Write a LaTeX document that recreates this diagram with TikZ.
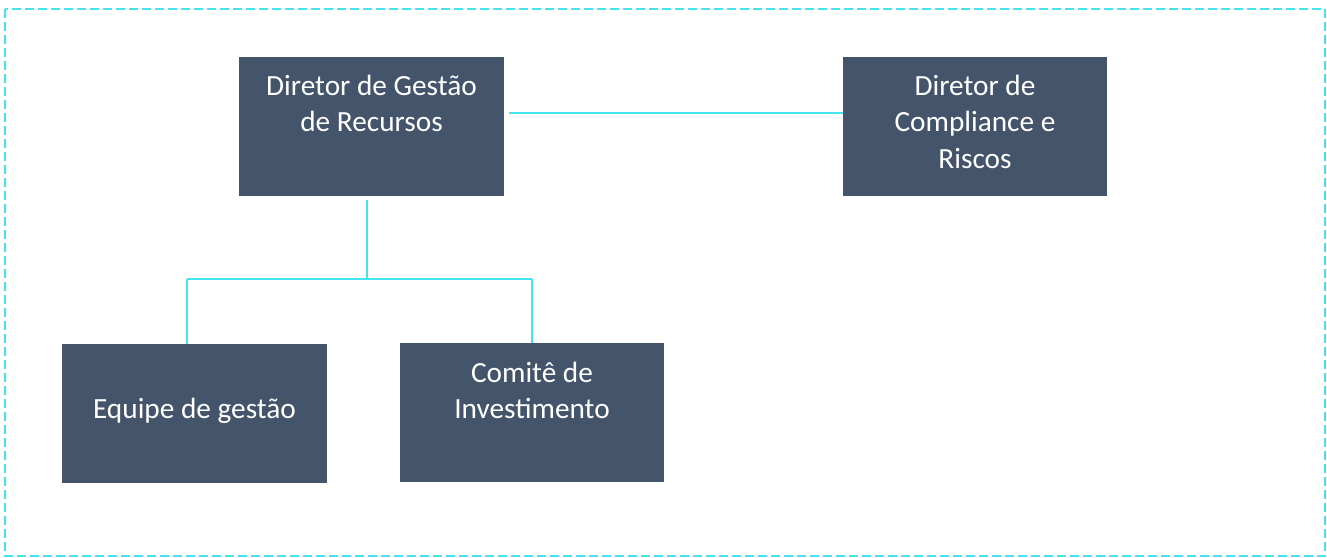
\documentclass[tikz,border=0pt]{standalone}
\usepackage{fontspec}
\setmainfont{Carlito}
\definecolor{boxfill}{HTML}{44546A}
\definecolor{linecyan}{HTML}{45E3EC}
\begin{document}
\begin{tikzpicture}[x=1pt,y=-1pt,
  orgbox/.style={fill=boxfill,draw=none,inner sep=0pt,anchor=north west},
  orgtext/.style={text=white,anchor=base,inner sep=0pt,font=\fontsize{29.3}{36.5}\selectfont},
  conn/.style={draw=linecyan,line width=1.3pt}]
\useasboundingbox (0,0) rectangle (1327,557);
\draw[linecyan,line width=2pt,dash pattern=on 9pt off 4pt] (5,9) rectangle (1325,556);
% boxes
\node[orgbox,minimum width=265pt,minimum height=139pt] (b1) at (239,57) {};
\node[orgbox,minimum width=264pt,minimum height=139pt] (b2) at (843,57) {};
\node[orgbox,minimum width=265pt,minimum height=139pt] (b3) at (62,344) {};
\node[orgbox,minimum width=264pt,minimum height=139pt] (b4) at (400,343) {};
% texts
\node[orgtext] (t1) at (371.5,95) {\begin{tabular}[t]{@{}c@{}}Diretor de Gestão\\de Recursos\end{tabular}};
\node[orgtext] (t2) at (975,95) {\begin{tabular}[t]{@{}c@{}}Diretor de\\Compliance e\\Riscos\end{tabular}};
\node[orgtext] (t3) at (194.5,418) {Equipe de gestão};
\node[orgtext] (t4) at (532,382) {\begin{tabular}[t]{@{}c@{}}Comitê de\\Investimento\end{tabular}};
% connectors
\coordinate (h1) at (509,113);
\coordinate (v1) at (367,200);
\coordinate (j) at (367,279);
\coordinate (jl) at (187,279);
\coordinate (jr) at (532,279);
\draw[conn] (h1) -- (b2.west |- h1);
\draw[conn] (v1) -- (j);
\draw[conn] (jl) -- (jr);
\draw[conn] (jl) -- (jl |- b3.north);
\draw[conn] (jr) -- (jr |- b4.north);
\end{tikzpicture}
\end{document}
